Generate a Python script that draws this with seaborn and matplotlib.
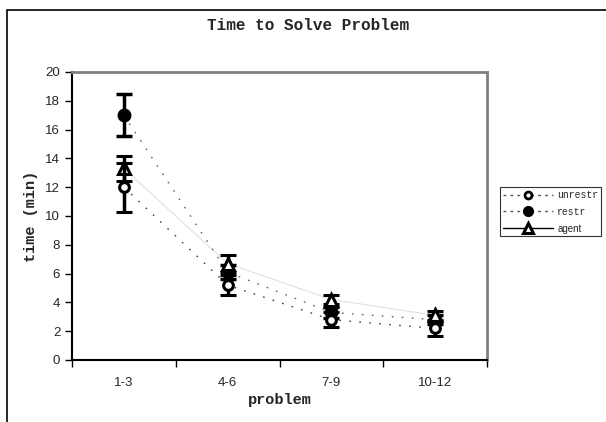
import numpy as np
import matplotlib
matplotlib.use('Agg')
import matplotlib.pyplot as plt
from matplotlib.lines import Line2D
from matplotlib.patches import Rectangle
import pandas as pd
import seaborn as sb

problems = ['1-3', '4-6', '7-9', '10-12']
unrestr = [12.0, 5.2, 2.8, 2.2]
unrestr_err = [1.7, 0.7, 0.5, 0.5]
restr = [17.0, 6.1, 3.3, 2.8]
restr_err = [1.45, 0.5, 0.4, 0.3]
agent = [13.3, 6.7, 4.2, 3.1]
agent_err = [0.9, 0.6, 0.3, 0.3]

sb.set_style('white')
mono = 'Liberation Mono'
sans = 'Liberation Sans'

fig = plt.figure(figsize=(6.06, 4.22), dpi=100)
ax = fig.add_axes([72/606, 1 - 360/422, (487-72)/606, (360-72)/422])

df = pd.DataFrame({'problem': problems * 3,
                   'time': unrestr + restr + agent,
                   'group': ['unrestr']*4 + ['restr']*4 + ['agent']*4})

# connecting lines (faint, as in the original)
sb.lineplot(data=df[df.group == 'agent'], x='problem', y='time', ax=ax,
            color='#e0e0e0', lw=0.8, sort=False, zorder=1)
sb.lineplot(data=df[df.group == 'unrestr'], x='problem', y='time', ax=ax,
            color='#444444', lw=1.0, ls=(0, (1.2, 6)), sort=False, zorder=1)
sb.lineplot(data=df[df.group == 'restr'], x='problem', y='time', ax=ax,
            color='#666666', lw=1.0, ls=(0, (1.2, 6)), sort=False, zorder=1)

x = np.arange(len(problems))
# error bars + markers
ax.errorbar(x, restr, yerr=restr_err, fmt='o', color='black', ms=9,
            mfc='black', mec='black', elinewidth=2.5, capsize=5.5, capthick=2.5, zorder=3)
ax.errorbar(x, agent, yerr=agent_err, fmt='^', color='black', ms=8,
            mfc='white', mec='black', mew=2.2, elinewidth=2.5, capsize=5.5, capthick=2.5, zorder=4)
ax.errorbar(x, unrestr, yerr=unrestr_err, fmt='o', color='black', ms=7,
            mfc='white', mec='black', mew=2.2, elinewidth=2.5, capsize=5.5, capthick=2.5, zorder=5)

ax.set_xlim(-0.5, 3.5)
ax.set_ylim(0, 20)
ax.set_yticks(np.arange(0, 21, 2))
ax.set_xticks(x)
ax.set_xticklabels(problems, fontfamily=sans, fontsize=9.5)
ax.set_xticks(np.arange(-0.5, 3.6, 1), minor=True)
ax.tick_params(axis='x', which='major', length=0, pad=12)
ax.tick_params(axis='x', which='minor', length=5, width=1, color='black', direction='out', bottom=True)
ax.tick_params(axis='y', length=5, width=1, color='black', direction='out', left=True, labelsize=9.5)
for lab in ax.get_yticklabels():
    lab.set_fontfamily(sans)

for s in ['top', 'right']:
    ax.spines[s].set_color('#808080')
    ax.spines[s].set_linewidth(2)
for s in ['left', 'bottom']:
    ax.spines[s].set_color('black')
    ax.spines[s].set_linewidth(1.5)

ax.set_xlabel('problem', fontfamily=mono, fontweight='bold', fontsize=11, labelpad=3)
ax.set_ylabel('time (min)', fontfamily=mono, fontweight='bold', fontsize=11, labelpad=5)
fig.text(308/606, 1 - 26/422, 'Time to Solve Problem', ha='center', va='center',
         fontfamily=mono, fontweight='bold', fontsize=11.5)

# legend
handles = [
    Line2D([], [], color='#555555', ls=(0, (2, 3)), lw=1, marker='o', ms=5, mfc='white', mec='black', mew=2),
    Line2D([], [], color='#555555', ls=(0, (2, 3)), lw=1, marker='o', ms=7, mfc='black', mec='black'),
    Line2D([], [], color='black', ls='-', lw=1, marker='^', ms=7, mfc='white', mec='black', mew=2.2),
]
leg = fig.legend(handles, ['unrestr', 'restr', 'agent'], loc='upper left',
                 bbox_to_anchor=(500/606, 1 - 187/422), fontsize=7, handlelength=5.2,
                 frameon=True, fancybox=False, borderpad=0.3, labelspacing=0.7,
                 handletextpad=0.4, borderaxespad=0)
leg.get_frame().set_edgecolor('black')
leg.get_frame().set_linewidth(0.8)
for t, f in zip(leg.get_texts(), [mono, mono, sans]):
    t.set_fontfamily(f)

# outer chart border (cut off at right/bottom)
fig.patches.append(Rectangle((7/606, -0.2), 1.2, 1 - 10/422 + 0.2, transform=fig.transFigure,
                             fill=False, edgecolor='black', lw=1.2))

fig.savefig('out.png', dpi=100)
